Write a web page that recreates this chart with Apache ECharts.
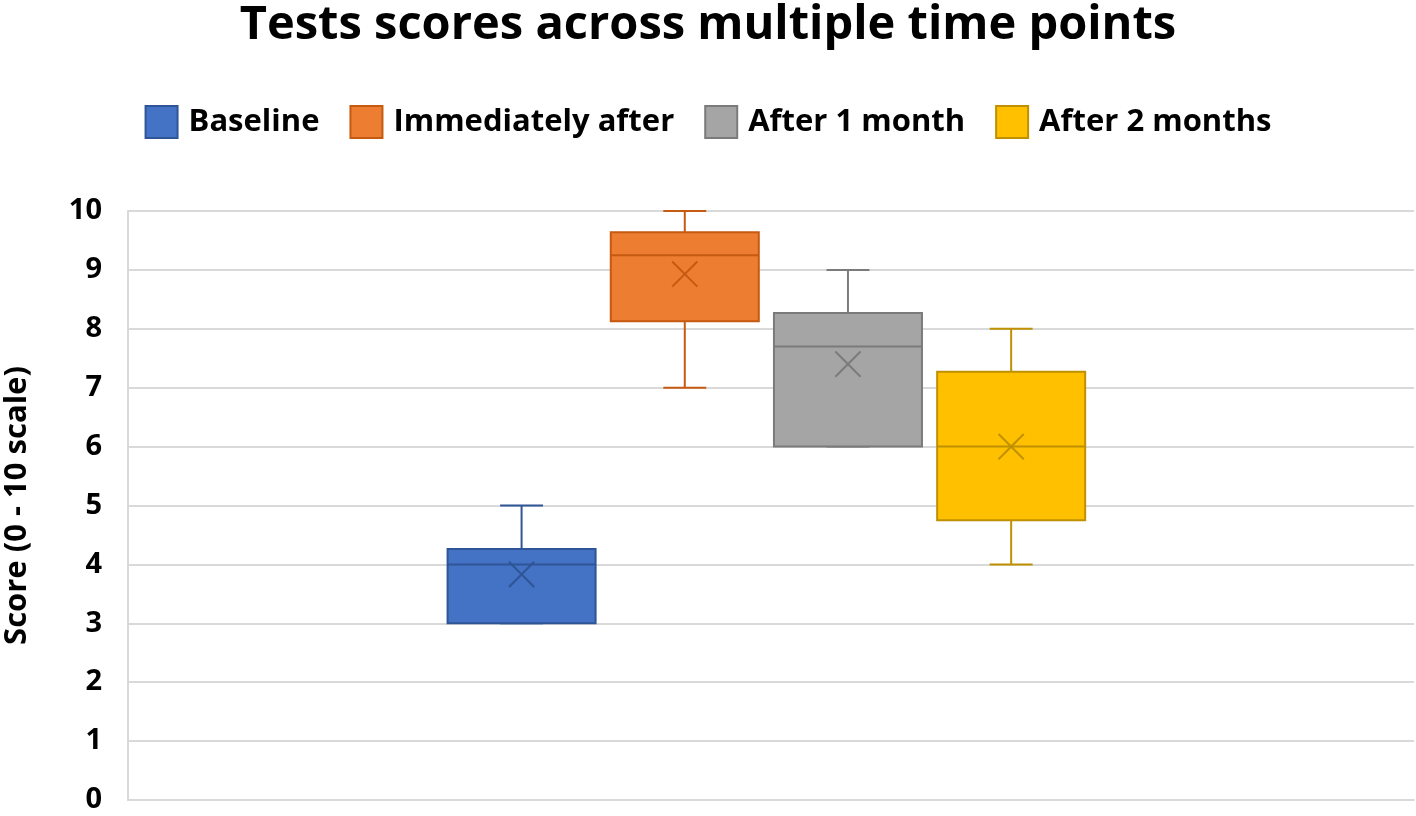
<!DOCTYPE html>
<html>
<head>
<meta charset="utf-8">
<script src="https://cdn.jsdelivr.net/npm/echarts@6/dist/echarts.min.js"></script>
<style>
  html, body { margin: 0; padding: 0; background: #fff; }
  #chart { width: 1416px; height: 816px; }
</style>
</head>
<body>
<div id="chart"></div>
<script>
// ---- Data ----
const categories = ['Baseline', 'Immediately after', 'After 1 month', 'After 2 months'];
const minValues    = [3,    7,    6,    4];
const q1Values     = [3,    8.13, 6,    4.75];
const medianValues = [4,    9.25, 7.7,  6];
const q3Values     = [4.26, 9.64, 8.27, 7.27];
const maxValues    = [5,    10,   9,    8];
const meanValues   = [3.83, 8.93, 7.4,  6.0];
const yTickLabels  = ['0','1','2','3','4','5','6','7','8','9','10'];

// ---- Styling ----
const fillColors   = ['#4472C4', '#ED7D31', '#A5A5A5', '#FFC000'];
const borderColors = ['#2F5597', '#C55A11', '#7B7B7B', '#BF9000'];
const FONT = '"Open Sans"';

// layout ratios relative to category band width
const BOX_RATIO = 0.1151;
const STEP_RATIO = 0.1269;
const SHIFT_RATIO = -0.0036;
const CAP_RATIO = 0.29;   // cap width relative to box width
const MEAN_RATIO = 0.17;  // mean X size relative to box width

function makeRender(idx) {
  return function (params, api) {
    const bw = api.size([1, 0])[0];
    const center = api.coord([0, 0])[0];
    const n = categories.length;
    const cx = center + bw * (SHIFT_RATIO + (idx - (n - 1) / 2) * STEP_RATIO);
    const boxW = bw * BOX_RATIO;
    const capW = boxW * CAP_RATIO;
    const mW = boxW * MEAN_RATIO;
    const y = v => api.coord([0, v])[1];
    const yMin = y(api.value(1)), yQ1 = y(api.value(2)), yMed = y(api.value(3));
    const yQ3 = y(api.value(4)), yMax = y(api.value(5)), yMean = y(api.value(6));
    const stroke = borderColors[idx];
    const ls = { stroke: stroke, lineWidth: 2 };
    return {
      type: 'group',
      children: [
        { type: 'line', shape: { x1: cx, y1: yQ3, x2: cx, y2: yMax }, style: ls },
        { type: 'line', shape: { x1: cx, y1: yQ1, x2: cx, y2: yMin }, style: ls },
        { type: 'line', shape: { x1: cx - capW / 2, y1: yMax, x2: cx + capW / 2, y2: yMax }, style: ls },
        { type: 'line', shape: { x1: cx - capW / 2, y1: yMin, x2: cx + capW / 2, y2: yMin }, style: ls },
        { type: 'rect', shape: { x: cx - boxW / 2, y: yQ3, width: boxW, height: yQ1 - yQ3 },
          style: { fill: fillColors[idx], stroke: stroke, lineWidth: 2 } },
        { type: 'line', shape: { x1: cx - boxW / 2, y1: yMed, x2: cx + boxW / 2, y2: yMed }, style: ls },
        { type: 'line', shape: { x1: cx - mW / 2, y1: yMean - mW / 2, x2: cx + mW / 2, y2: yMean + mW / 2 }, style: ls },
        { type: 'line', shape: { x1: cx - mW / 2, y1: yMean + mW / 2, x2: cx + mW / 2, y2: yMean - mW / 2 }, style: ls }
      ]
    };
  };
}

const series = categories.map((name, i) => ({
  name: name,
  type: 'custom',
  renderItem: makeRender(i),
  itemStyle: { color: fillColors[i], borderColor: borderColors[i], borderWidth: 2 },
  encode: { x: 0, y: [1, 2, 3, 4, 5] },
  data: [[0, minValues[i], q1Values[i], medianValues[i], q3Values[i], maxValues[i], meanValues[i]]]
}));

const chart = echarts.init(document.getElementById('chart'), null, { renderer: 'canvas' });
chart.setOption({
  animation: false,
  backgroundColor: '#ffffff',
  title: {
    text: 'Tests scores across multiple time points',
    left: 'center',
    top: -3,
    textStyle: { fontFamily: FONT, fontWeight: 'bold', fontSize: 47, color: '#000' }
  },
  legend: {
    top: 105,
    left: 'center',
    padding: 0,
    icon: 'rect',
    itemWidth: 32,
    itemHeight: 32,
    itemGap: 30,
    textStyle: { fontFamily: FONT, fontWeight: 'bold', fontSize: 31, color: '#000', padding: [0, 0, 0, 6] },
    data: categories.map((name, i) => ({
      name: name,
      itemStyle: { color: fillColors[i], borderColor: borderColors[i], borderWidth: 2 }
    }))
  },
  grid: { left: 128, right: 2, top: 211, bottom: 16, containLabel: false, outerBoundsMode: 'none' },
  xAxis: {
    type: 'category',
    data: [''],
    axisLine: { show: true, lineStyle: { color: '#D9D9D9', width: 2 } },
    axisTick: { show: false },
    axisLabel: { show: false },
    splitLine: { show: false }
  },
  yAxis: {
    type: 'value',
    min: 0,
    max: 10,
    interval: 1,
    name: 'Score (0 - 10 scale)',
    nameLocation: 'middle',
    nameGap: 95,
    nameRotate: 90,
    nameTextStyle: { fontFamily: FONT, fontWeight: 'bold', fontSize: 31, color: '#000' },
    axisLine: { show: true, lineStyle: { color: '#D9D9D9', width: 2 } },
    axisTick: { show: false },
    axisLabel: {
      fontFamily: FONT, fontWeight: 'bold', fontSize: 29, color: '#000', margin: 26,
      formatter: (v) => yTickLabels[Math.round(v)]
    },
    splitLine: { show: true, lineStyle: { color: '#D9D9D9', width: 2 } }
  },
  series: series
});
</script>
</body>
</html>
